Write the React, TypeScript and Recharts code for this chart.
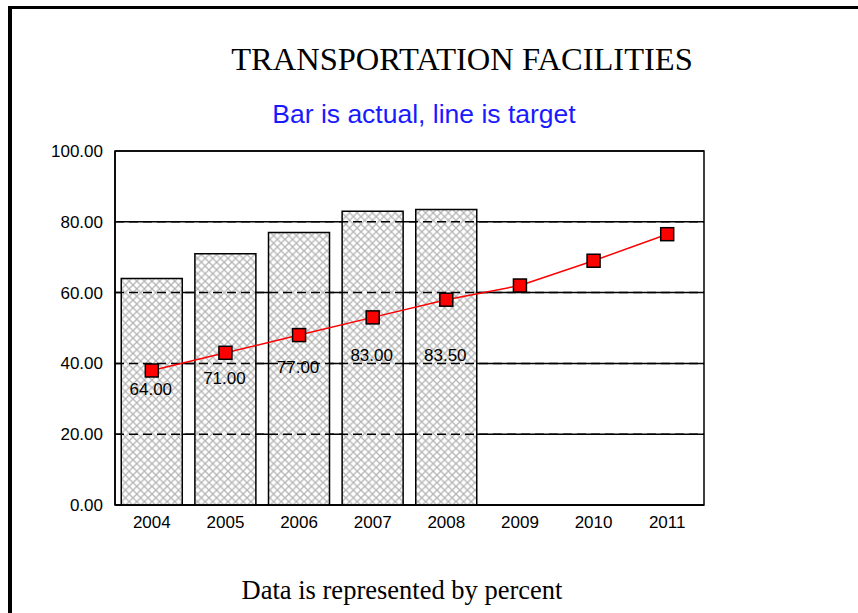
import React from 'react';
import {
  ComposedChart,
  Bar,
  Line,
  XAxis,
  YAxis,
  CartesianGrid,
  ReferenceLine,
  ReferenceArea,
  LabelList,
} from 'recharts';

const years = ['2004', '2005', '2006', '2007', '2008', '2009', '2010', '2011'];
const actual: (number | null)[] = [64, 71, 77, 83, 83.5, null, null, null];
const target = [38, 43, 48, 53, 58, 62, 69, 76.5];
// vertical anchor (in value units) where each actual-value label sits
const labelAnchor: (number | null)[] = [32.7, 35.8, 38.8, 42.2, 42.2, null, null, null];
const yTicks = [0, 20, 40, 60, 80, 100];

const data = years.map((year, i) => ({
  year,
  actual: actual[i],
  target: target[i],
  anchor: labelAnchor[i],
}));

const AXIS_FONT = '"Liberation Sans", Arial, sans-serif';
const SERIF = '"Liberation Serif", "Times New Roman", serif';

const SquareDot = (props: any) => {
  const { cx, cy } = props;
  if (cx == null || cy == null) return null;
  return (
    <rect
      x={cx - 6.5}
      y={cy - 6.5}
      width={13}
      height={13}
      fill="#ff0000"
      stroke="#000"
      strokeWidth={1.5}
    />
  );
};

const ValueLabel = (props: any) => {
  const { x, y, value } = props;
  if (value == null || x == null || y == null) return null;
  return (
    <text
      x={x - 1}
      y={y}
      textAnchor="middle"
      dominantBaseline="central"
      fontFamily={AXIS_FONT}
      fontSize={17}
      fill="#000"
    >
      {Number(value).toFixed(2)}
    </text>
  );
};

export default function App() {
  return (
    <div
      style={{
        position: 'absolute',
        left: 0,
        top: 0,
        width: 858,
        height: 613,
        background: '#fff',
        overflow: 'hidden',
      }}
    >
      <div style={{ position: 'absolute', left: 0, top: 0 }}>
        <ComposedChart
          width={858}
          height={613}
          data={data}
          margin={{ top: 151, right: 154, bottom: 78, left: 0 }}
          barCategoryGap="8.5%"
        >
          <defs>
            <pattern id="xhatch" width="7.6" height="7.6" patternUnits="userSpaceOnUse">
              <rect width="7.6" height="7.6" fill="#fff" />
              <path d="M0,0 L7.6,7.6 M7.6,0 L0,7.6" stroke="#b4b4b4" strokeWidth="1.3" />
            </pattern>
          </defs>
          <CartesianGrid
            vertical={false}
            stroke="#000"
            strokeWidth={1.5}
            strokeDasharray=""
          />
          <XAxis
            dataKey="year"
            tickLine={false}
            tickSize={0}
            tickMargin={11}
            axisLine={{ stroke: '#000', strokeWidth: 1.5 }}
            height={30}
            tick={{ fill: '#000', fontSize: 17, fontFamily: AXIS_FONT }}
            interval={0}
          />
          <YAxis
            domain={[0, 100]}
            ticks={yTicks}
            tickFormatter={(v: number) => v.toFixed(2)}
            tickLine={false}
            tickSize={0}
            tickMargin={12}
            width={115}
            axisLine={{ stroke: '#000', strokeWidth: 1.5 }}
            tick={{ fill: '#000', fontSize: 17, fontFamily: AXIS_FONT }}
            allowDataOverflow
          />
          <Bar
            dataKey="actual"
            fill="url(#xhatch)"
            stroke="#000"
            strokeWidth={1.5}
            isAnimationActive={false}
          />
          {[20, 40, 60, 80].map((v) => (
            <ReferenceLine
              key={v}
              y={v}
              stroke="#000"
              strokeWidth={1.5}
              strokeDasharray="9 5"
            />
          ))}
          <ReferenceArea y1={0} y2={100} fill="none" stroke="#000" strokeWidth={1.5} />
          <Line
            dataKey="target"
            stroke="#ff0000"
            strokeWidth={1.5}
            dot={<SquareDot />}
            activeDot={false}
            isAnimationActive={false}
          />
          <Line
            dataKey="anchor"
            stroke="none"
            dot={false}
            activeDot={false}
            isAnimationActive={false}
            connectNulls={false}
          >
            <LabelList dataKey="actual" content={<ValueLabel />} />
          </Line>
        </ComposedChart>
      </div>
      <svg
        width={858}
        height={613}
        style={{ position: 'absolute', left: 0, top: 0, pointerEvents: 'none' }}
      >
        <rect x={8} y={6} width={4} height={607} fill="#000" />
        <rect x={8} y={6} width={850} height={3} fill="#000" />
        <text
          x={462}
          y={70}
          textAnchor="middle"
          fontFamily={SERIF}
          fontSize={32.5}
          fill="#000"
        >
          TRANSPORTATION FACILITIES
        </text>
        <text
          x={424}
          y={123}
          textAnchor="middle"
          fontFamily={AXIS_FONT}
          fontSize={26.5}
          fill="#1a1aff"
        >
          Bar is actual, line is target
        </text>
        <text
          x={402}
          y={599}
          textAnchor="middle"
          fontFamily={SERIF}
          fontSize={26.5}
          fill="#000"
        >
          Data is represented by percent
        </text>
      </svg>
    </div>
  );
}
